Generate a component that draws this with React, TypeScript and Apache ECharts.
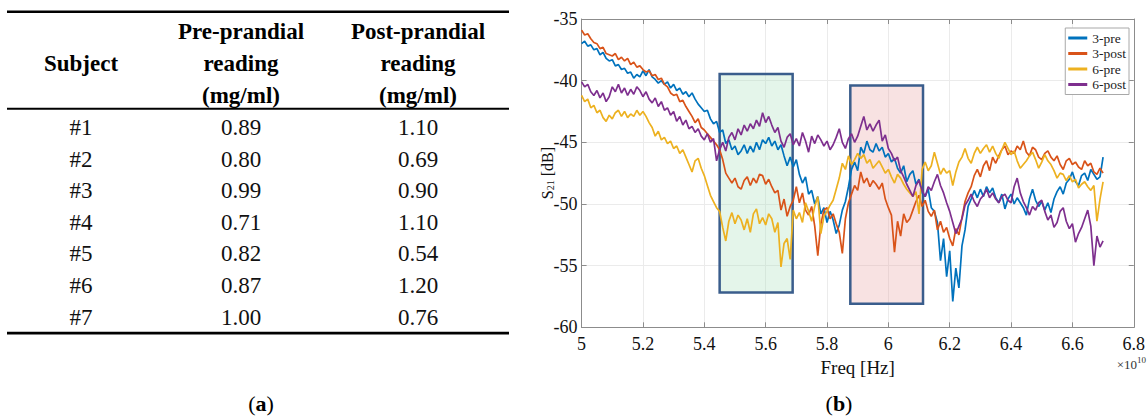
import React, { useEffect, useRef } from "react";
import * as echarts from "echarts";

// ---------- Table (a) ----------
const TABLE_HEAD = ["Subject", "Pre-prandial\nreading\n(mg/ml)", "Post-prandial\nreading\n(mg/ml)"];
const SUBJECTS = ["#1", "#2", "#3", "#4", "#5", "#6", "#7"];
const PRE_READING = ["0.89", "0.80", "0.99", "0.71", "0.82", "0.87", "1.00"];
const POST_READING = ["1.10", "0.69", "0.90", "1.10", "0.54", "1.20", "0.76"];

// ---------- Chart (b) ----------
const SERIES_NAMES = ["3-pre", "3-post", "6-pre", "6-post"];
const SERIES_COLORS = ["#0072BD", "#D95319", "#EDB120", "#7E2F8E"];
const X_TICKS = [5, 5.2, 5.4, 5.6, 5.8, 6, 6.2, 6.4, 6.6, 6.8];
const Y_TICKS = [-60, -55, -50, -45, -40, -35];

// frequency sweep (x 1e10 Hz)
const FREQ = [
  5.00, 5.01, 5.02, 5.03, 5.04, 5.05, 5.06, 5.07, 5.08, 5.09,
  5.10, 5.11, 5.12, 5.13, 5.14, 5.15, 5.16, 5.17, 5.18, 5.19,
  5.20, 5.21, 5.22, 5.23, 5.24, 5.25, 5.26, 5.27, 5.28, 5.29,
  5.30, 5.31, 5.32, 5.33, 5.34, 5.35, 5.36, 5.37, 5.38, 5.39,
  5.40, 5.41, 5.42, 5.43, 5.44, 5.45, 5.46, 5.47, 5.48, 5.49,
  5.50, 5.51, 5.52, 5.53, 5.54, 5.55, 5.56, 5.57, 5.58, 5.59,
  5.60, 5.61, 5.62, 5.63, 5.64, 5.65, 5.66, 5.67, 5.68, 5.69,
  5.70, 5.71, 5.72, 5.73, 5.74, 5.75, 5.76, 5.77, 5.78, 5.79,
  5.80, 5.81, 5.82, 5.83, 5.84, 5.85, 5.86, 5.87, 5.88, 5.89,
  5.90, 5.91, 5.92, 5.93, 5.94, 5.95, 5.96, 5.97, 5.98, 5.99,
  6.00, 6.01, 6.02, 6.03, 6.04, 6.05, 6.06, 6.07, 6.08, 6.09,
  6.10, 6.11, 6.12, 6.13, 6.14, 6.15, 6.16, 6.17, 6.18, 6.19,
  6.20, 6.21, 6.22, 6.23, 6.24, 6.25, 6.26, 6.27, 6.28, 6.29,
  6.30, 6.31, 6.32, 6.33, 6.34, 6.35, 6.36, 6.37, 6.38, 6.39,
  6.40, 6.41, 6.42, 6.43, 6.44, 6.45, 6.46, 6.47, 6.48, 6.49,
  6.50, 6.51, 6.52, 6.53, 6.54, 6.55, 6.56, 6.57, 6.58, 6.59,
  6.60, 6.61, 6.62, 6.63, 6.64, 6.65, 6.66, 6.67, 6.68, 6.69,
  6.70,
];

const S21_3PRE = [
  -37.0, -36.8, -37.2, -37.1, -37.5, -37.4, -37.9, -37.7, -38.2, -38.4,
  -38.3, -38.8, -38.7, -39.1, -39.0, -39.4, -39.3, -39.8, -39.5, -39.7,
  -39.2, -39.6, -39.1, -39.7, -39.9, -40.2, -40.0, -40.3, -40.1, -40.6,
  -40.3, -40.8, -40.6, -41.1, -40.9, -41.3, -41.0, -41.5, -41.9, -42.2,
  -42.5, -42.4, -43.1, -43.5, -43.3, -44.2, -44.0, -45.1, -44.8, -45.6,
  -45.3, -46.0, -45.7, -45.2, -45.9, -45.3, -45.8, -45.0, -45.6, -44.8,
  -45.1, -44.6, -45.3, -44.9, -45.6, -45.2, -46.1, -46.9, -46.2, -47.0,
  -46.4, -47.6, -48.3, -47.8, -49.2, -48.9, -50.0, -49.4, -50.8, -50.3,
  -51.5, -50.6, -51.3, -52.4, -51.7, -50.5, -49.8, -48.6, -47.2, -46.6,
  -47.3, -45.4, -45.9, -44.9, -45.6, -45.8, -45.1, -45.7, -45.4, -46.2,
  -45.9, -46.6, -46.3, -47.1, -47.5, -46.9, -48.2, -47.6, -47.3, -48.4,
  -48.0, -49.1, -49.4, -48.8, -50.3, -50.6, -51.5, -54.6, -52.8, -55.9,
  -53.8, -57.9, -55.2, -56.8, -53.4, -52.1, -50.2, -49.6, -48.9, -49.5,
  -48.8, -49.4, -48.6, -49.1, -48.7, -49.5, -49.9, -49.2, -50.4, -49.6,
  -49.2, -50.0, -49.5, -49.9, -50.3, -50.9, -49.6, -48.8, -49.7, -50.2,
  -49.8, -50.5, -49.9, -50.7, -49.6, -49.0, -48.6, -49.2, -48.3, -48.0,
  -47.4, -48.2, -48.5, -47.7, -47.5, -48.1, -47.2, -47.6, -48.0, -47.8,
  -46.2,
];

const S21_3POST = [
  -35.9, -36.3, -36.2, -36.6, -36.9, -37.0, -37.4, -37.3, -37.8, -37.9,
  -38.0, -37.8, -38.3, -38.1, -38.4, -38.2, -38.7, -38.5, -38.9, -38.8,
  -39.1, -39.3, -39.2, -39.6, -39.5, -39.9, -39.8, -40.3, -40.5, -41.0,
  -41.2, -41.1, -41.7, -41.6, -42.1, -42.5, -42.9, -43.4, -43.1, -43.8,
  -44.0, -44.3, -44.6, -44.9, -45.2, -45.6, -46.4, -47.5, -47.9, -48.3,
  -47.9, -48.6, -48.8, -48.1, -47.8, -48.5, -47.9, -48.3, -47.6, -47.7,
  -48.4, -48.0, -48.6, -49.1, -48.9, -50.5, -49.6, -51.0, -50.2, -49.7,
  -48.6, -49.9, -49.1, -50.5, -50.9, -50.2, -51.8, -54.2, -51.6, -50.5,
  -50.3, -51.2, -50.8, -51.6, -52.3, -54.0, -51.2, -49.9, -49.2, -48.5,
  -48.9, -47.4, -48.3, -47.9, -48.6, -48.1, -48.4, -48.8, -48.3, -49.6,
  -50.3, -50.9, -53.9, -51.4, -52.6, -50.8, -51.5, -51.2, -50.5, -49.8,
  -49.3, -50.2, -49.7, -50.6, -51.0, -50.5, -52.1, -51.4, -52.3, -51.9,
  -52.8, -53.4, -52.0, -52.5, -51.1, -49.8, -49.1, -48.6, -47.7, -47.2,
  -47.8, -46.9, -46.5, -47.3, -46.2, -46.7, -46.1, -45.6, -45.3, -46.0,
  -45.7, -45.9, -45.3, -45.6, -44.9, -45.8, -46.1, -45.4, -45.6, -46.2,
  -46.4, -45.9, -45.7, -46.2, -46.5, -46.1, -46.8, -47.2, -46.5, -46.3,
  -46.8, -46.6, -47.0, -47.2, -46.5, -46.9, -46.7, -47.4, -47.6, -47.1,
  -47.5,
];

const S21_6PRE = [
  -41.2, -41.7, -41.5, -42.2, -42.0, -42.6, -42.4, -43.0, -43.3, -42.8,
  -43.1, -42.6, -42.4, -42.9, -42.5, -43.0, -42.7, -42.9, -42.4, -42.8,
  -42.5, -42.9, -43.4, -43.8, -44.5, -44.1, -44.8, -44.6, -45.1, -44.9,
  -45.5, -45.3, -45.9, -45.6, -46.2, -46.8, -47.4, -46.5, -46.3, -47.1,
  -47.7, -48.5, -49.3, -49.8, -50.3, -50.6, -51.9, -53.0, -51.4, -50.7,
  -51.6, -50.9, -51.3, -52.1, -51.2, -52.3, -50.8, -50.4, -51.6, -51.1,
  -51.7, -50.8, -51.2, -52.3, -51.5, -55.1, -53.2, -52.8, -54.5, -50.5,
  -51.2, -50.7, -51.5, -49.9, -50.6, -51.4, -50.2, -49.4, -52.4, -51.0,
  -50.6, -50.1, -49.7, -48.8, -47.9, -46.7, -47.2, -46.1, -46.8, -46.4,
  -45.9, -46.3, -46.0, -46.7, -46.4, -47.1, -46.8, -46.5, -47.0, -47.5,
  -47.2, -47.8, -48.3, -47.6, -47.9, -48.4, -48.8, -49.1, -49.4, -49.0,
  -50.8, -47.2, -46.6, -47.3, -46.9, -45.8, -46.7, -47.6, -47.1, -47.5,
  -47.3, -48.5, -47.4, -46.6, -46.2, -45.5, -46.3, -46.7, -45.9, -45.4,
  -45.9, -45.5, -45.2, -45.8, -45.3, -45.9, -46.3, -45.6, -45.0, -45.5,
  -46.0, -45.7, -46.5, -47.1, -46.8, -46.5, -46.1, -45.8, -46.4, -47.1,
  -46.6, -46.0, -46.5, -46.8, -47.3, -47.9, -47.5, -47.6, -48.1, -47.7,
  -48.2, -48.0, -48.7, -48.4, -48.2, -48.6, -48.9, -48.5, -51.4, -49.6,
  -48.2,
];

const S21_6POST = [
  -40.1, -40.5, -40.3, -40.9, -41.2, -40.8, -41.4, -41.0, -41.7, -41.3,
  -40.5, -40.9, -40.3, -41.0, -40.6, -41.2, -40.7, -41.1, -40.5, -40.8,
  -41.3, -40.9, -41.5, -41.8, -41.4, -42.1, -41.7, -42.4, -42.2, -42.8,
  -42.5, -43.3, -42.9, -43.6, -43.2, -43.9, -43.7, -44.2, -43.9, -44.5,
  -44.8, -44.3, -45.0, -44.7, -46.5, -45.6, -45.0, -45.7, -44.6, -44.2,
  -44.8, -43.9, -44.4, -43.6, -44.1, -43.5, -43.9, -43.2, -43.7, -42.6,
  -43.4, -42.9, -43.6, -44.2, -43.8, -44.9, -45.4, -44.6, -44.3, -45.2,
  -44.7, -45.3, -44.2, -44.9, -45.8, -44.5, -45.1, -44.4, -44.8, -45.3,
  -44.9, -45.6, -45.2, -44.6, -43.9, -45.0, -45.5, -44.7, -44.3, -45.0,
  -44.5, -43.7, -42.9, -44.0, -43.5, -44.1, -43.6, -43.2, -44.9, -44.4,
  -45.5, -45.9, -46.5, -46.2, -47.3, -47.8, -48.4, -48.9, -49.4, -48.5,
  -48.1, -48.9, -49.4, -48.6, -48.9, -48.2, -47.6, -48.5, -49.1, -49.9,
  -50.6, -51.5, -52.4, -51.8, -51.2, -50.1, -49.7, -49.2, -49.8, -50.2,
  -49.6, -49.3, -48.8, -49.5, -49.1, -49.6, -49.9, -49.4, -49.2, -49.7,
  -49.9, -48.6, -47.9, -49.1, -49.8, -50.3, -50.9, -50.2, -50.5, -49.9,
  -49.7, -50.6, -51.3, -50.9, -51.9, -51.5, -50.6, -50.3, -51.4, -52.0,
  -51.6, -53.1, -52.4, -51.9, -51.2, -50.5, -51.8, -55.0, -52.6, -53.5,
  -53.0,
];

const SERIES_VALUES = [S21_3PRE, S21_3POST, S21_6PRE, S21_6POST];

// highlighted regions: [x from, x to, y top, y bottom] in axis units
const REGION_GREEN = [5.45, 5.688, -39.45, -57.18];
const REGION_RED = [5.876, 6.113, -40.4, -58.1];

const SERIF = "Liberation Serif";

export default function App() {
  const ref = useRef<HTMLDivElement>(null);

  useEffect(() => {
    if (!ref.current) return;
    const chart = echarts.init(ref.current, null, { renderer: "svg" });

    // ---- table graphic ----
    const colX = [81, 241, 418];
    const rowY0 = 127.5;
    const rowStep = 31.6;
    const tableGraphics: any[] = [
      { type: "rect", shape: { x: 7, y: 10.5, width: 502, height: 2.6 }, style: { fill: "#000" } },
      { type: "rect", shape: { x: 7, y: 107.7, width: 502, height: 2 }, style: { fill: "#000" } },
      { type: "rect", shape: { x: 7, y: 331.8, width: 502, height: 2.6 }, style: { fill: "#000" } },
    ];
    TABLE_HEAD.forEach((h, c) => {
      tableGraphics.push({
        type: "text",
        x: colX[c],
        y: 63,
        style: {
          text: h,
          fontFamily: SERIF,
          fontSize: 23,
          fontWeight: "bold",
          fill: "#000",
          align: "center",
          verticalAlign: "middle",
          lineHeight: 32,
        },
      });
    });
    SUBJECTS.forEach((s, r) => {
      const cells = [s, PRE_READING[r], POST_READING[r]];
      cells.forEach((t, c) => {
        tableGraphics.push({
          type: "text",
          x: colX[c],
          y: rowY0 + r * rowStep,
          style: {
            text: t,
            fontFamily: SERIF,
            fontSize: 23,
            fill: "#111",
            align: "center",
            verticalAlign: "middle",
          },
        });
      });
    });

    const captionGraphics: any[] = [
      {
        type: "text",
        x: 261,
        y: 403,
        style: {
          text: "({b|a})",
          fontFamily: SERIF,
          fontSize: 22,
          fill: "#000",
          align: "center",
          verticalAlign: "middle",
          rich: { b: { fontFamily: SERIF, fontSize: 22, fontWeight: "bold", fill: "#000" } },
        },
      },
      {
        type: "text",
        x: 839,
        y: 403,
        style: {
          text: "({b|b})",
          fontFamily: SERIF,
          fontSize: 22,
          fill: "#000",
          align: "center",
          verticalAlign: "middle",
          rich: { b: { fontFamily: SERIF, fontSize: 22, fontWeight: "bold", fill: "#000" } },
        },
      },
      {
        type: "text",
        x: 1146,
        y: 364,
        style: {
          text: "×10{s|10}",
          fontFamily: SERIF,
          fontSize: 13,
          fill: "#333",
          align: "right",
          verticalAlign: "middle",
          rich: { s: { fontFamily: SERIF, fontSize: 9, fill: "#333", verticalAlign: "top", padding: [0, 0, 8, 0] } },
        },
      },
    ];

    const axisColor = "#8c8c8c";
    const gridColor = "#ebebeb";
    const labelStyle = { color: "#111", fontFamily: SERIF, fontSize: 18 };
    const fmt = (v: number) => String(Math.round(v * 10) / 10);

    const regionStyle = (fill: string) => ({
      color: fill,
      borderColor: "#3a5d8c",
      borderWidth: 2.5,
    });

    const series: any[] = SERIES_NAMES.map((name, k) => ({
      name,
      type: "line",
      showSymbol: false,
      symbol: "none",
      data: FREQ.map((f, i) => [f, SERIES_VALUES[k][i]]),
      lineStyle: { width: 1.7, color: SERIES_COLORS[k] },
      itemStyle: { color: SERIES_COLORS[k] },
      z: 2,
    }));
    series.push({
      name: "regions",
      type: "line",
      data: [],
      z: 5,
      silent: true,
      markArea: {
        silent: true,
        data: [
          [
            { xAxis: REGION_GREEN[0], yAxis: REGION_GREEN[2], itemStyle: regionStyle("rgba(170,225,190,0.32)") },
            { xAxis: REGION_GREEN[1], yAxis: REGION_GREEN[3] },
          ],
          [
            { xAxis: REGION_RED[0], yAxis: REGION_RED[2], itemStyle: regionStyle("rgba(232,160,160,0.3)") },
            { xAxis: REGION_RED[1], yAxis: REGION_RED[3] },
          ],
        ],
      },
    });

    chart.setOption({
      animation: false,
      backgroundColor: "#fff",
      grid: { left: 581.6, right: 11.1, top: 19, bottom: 89.7, containLabel: false },
      legend: {
        data: SERIES_NAMES,
        orient: "vertical",
        right: 19,
        top: 28,
        icon: "rect",
        itemWidth: 19,
        itemHeight: 3,
        itemGap: 1.5,
        padding: [3, 3, 3, 3],
        backgroundColor: "#fff",
        borderColor: "#a8a8a8",
        borderWidth: 1,
        borderRadius: 0,
        textStyle: { fontFamily: SERIF, fontSize: 13.5, color: "#222", lineHeight: 13 },
        z: 10,
      },
      xAxis: [
        {
          type: "value",
          min: X_TICKS[0],
          max: X_TICKS[X_TICKS.length - 1],
          interval: 0.2,
          name: "Freq [Hz]",
          nameLocation: "middle",
          nameGap: 28,
          nameTextStyle: { color: "#111", fontFamily: SERIF, fontSize: 19 },
          axisLine: { show: true, lineStyle: { color: axisColor, width: 1 } },
          axisTick: { show: true, inside: true, length: 5, lineStyle: { color: axisColor } },
          axisLabel: { ...labelStyle, margin: 8, formatter: fmt },
          splitLine: { show: true, lineStyle: { color: gridColor, width: 1 } },
        },
        {
          type: "value",
          position: "top",
          min: X_TICKS[0],
          max: X_TICKS[X_TICKS.length - 1],
          interval: 0.2,
          axisLine: { show: true, lineStyle: { color: axisColor, width: 1 } },
          axisTick: { show: true, inside: true, length: 5, lineStyle: { color: axisColor } },
          axisLabel: { show: false },
          splitLine: { show: false },
        },
      ],
      yAxis: [
        {
          type: "value",
          min: Y_TICKS[0],
          max: Y_TICKS[Y_TICKS.length - 1],
          interval: 5,
          name: "S{sub|21} [dB]",
          nameLocation: "middle",
          nameGap: 26,
          nameMoveOverlap: false,
          nameRotate: 90,
          nameTextStyle: {
            color: "#111",
            fontFamily: SERIF,
            fontSize: 16,
            rich: { sub: { fontFamily: SERIF, fontSize: 10, color: "#111", verticalAlign: "bottom", padding: [6, 0, 0, 0] } },
          },
          axisLine: { show: true, lineStyle: { color: axisColor, width: 1 } },
          axisTick: { show: true, inside: true, length: 5, lineStyle: { color: axisColor } },
          axisLabel: { ...labelStyle, margin: 4 },
          splitLine: { show: true, lineStyle: { color: gridColor, width: 1 } },
        },
        {
          type: "value",
          position: "right",
          min: Y_TICKS[0],
          max: Y_TICKS[Y_TICKS.length - 1],
          interval: 5,
          axisLine: { show: true, lineStyle: { color: axisColor, width: 1 } },
          axisTick: { show: true, inside: true, length: 5, lineStyle: { color: axisColor } },
          axisLabel: { show: false },
          splitLine: { show: false },
        },
      ],
      series,
      graphic: [...tableGraphics, ...captionGraphics],
    });

    return () => chart.dispose();
  }, []);

  return (
    <div
      ref={ref}
      style={{ position: "fixed", left: 0, top: 0, width: 1148, height: 417, background: "#fff" }}
    />
  );
}
